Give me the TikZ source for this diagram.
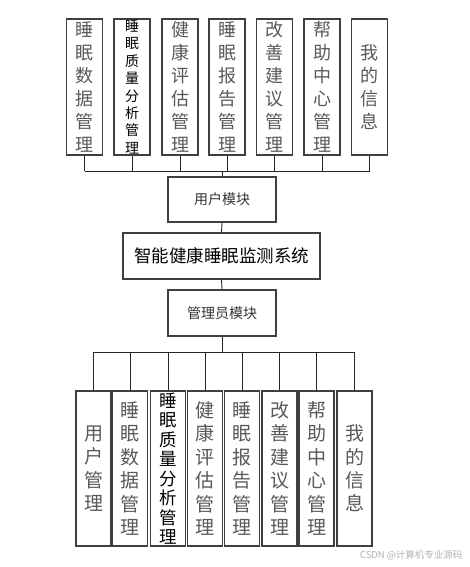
\documentclass[tikz,border=0pt]{standalone}
\usepackage{fontspec}
\setmainfont{Noto Sans CJK SC}
\tikzset{
  modbox/.style={draw=black!75, line width=1.1pt, fill=white, inner sep=0pt, align=center, text=black!65},
  topbox/.style={modbox, minimum width=36, minimum height=136, font=\fontsize{18}{23}\selectfont},
  botbox/.style={modbox, minimum width=35, minimum height=155, font=\fontsize{19}{23.4}\selectfont},
  midbox/.style={modbox, minimum width=108, minimum height=45, font=\fontsize{14}{16}\selectfont, text=black!80},
  link/.style={draw=black!85, line width=0.9pt}
}
\begin{document}
\begin{tikzpicture}[x=1pt,y=-1pt]
                \useasboundingbox[fill=white] (0,0) rectangle (469,567);
                % user side
                \foreach \i/\x/\t in {1/84.5/睡\\眠\\数\\据\\管\\理, 3/180/健\\康\\评\\估\\管\\理, 4/227/睡\\眠\\报\\告\\管\\理, 5/274.5/改\\善\\建\\议\\管\\理, 6/322/帮\\助\\中\\心\\管\\理, 7/369.5/我\\的\\信\\息}
                    \node[topbox] (t\i) at (\x,87) {\t};
                \node[topbox, font=\fontsize{14}{17.4}\selectfont, text=black] (t2) at (132,87) {睡\\眠\\质\\量\\分\\析\\管\\理};
                \node[midbox] (user) at (222,199.5) {用户模块};
                \node[modbox, minimum width=197, minimum height=46, font=\fontsize{17.5}{20}\selectfont, text=black] (sys) at (221.5,256) {智能健康睡眠监测系统};
                \node[midbox, minimum height=46] (admin) at (222,313) {管理员模块};
                % admin side
                \foreach \i/\x/\t in {1/93.5/用\\户\\管\\理, 2/130/睡\\眠\\数\\据\\管\\理, 4/205/健\\康\\评\\估\\管\\理, 5/242/睡\\眠\\报\\告\\管\\理, 6/279.5/改\\善\\建\\议\\管\\理, 7/316.5/帮\\助\\中\\心\\管\\理, 8/354.5/我\\的\\信\\息}
                    \node[botbox] (b\i) at (\x,468.5) {\t};
                \node[botbox, font=\fontsize{17.5}{19.5}\selectfont, text=black] (b3) at (168,468.5) {睡\\眠\\质\\量\\分\\析\\管\\理};
                % connectors
                \coordinate (tbus) at (222,171);
                \coordinate (bbus) at (222,352);
                \foreach \i in {1,...,7}
                    \draw[link] (t\i.south) -- (t\i.south |- tbus);
                \draw[link] (t1.south |- tbus) -- (t7.south |- tbus);
                \draw[link] (tbus) -- (user.north);
                \draw[link] (user.south) -- (sys.north);
                \draw[link] (sys.south) -- (admin.north);
                \draw[link] (admin.south) -- (bbus);
                \draw[link] (b1.north |- bbus) -- (b8.north |- bbus);
                \foreach \i in {1,...,8}
                    \draw[link] (b\i.north |- bbus) -- (b\i.north);
                \node[anchor=east, text=black!30, font=\fontsize{9.5}{11}\selectfont] (mark) at (466,555) {CSDN @计算机专业源码};
            \end{tikzpicture}
\end{document}
